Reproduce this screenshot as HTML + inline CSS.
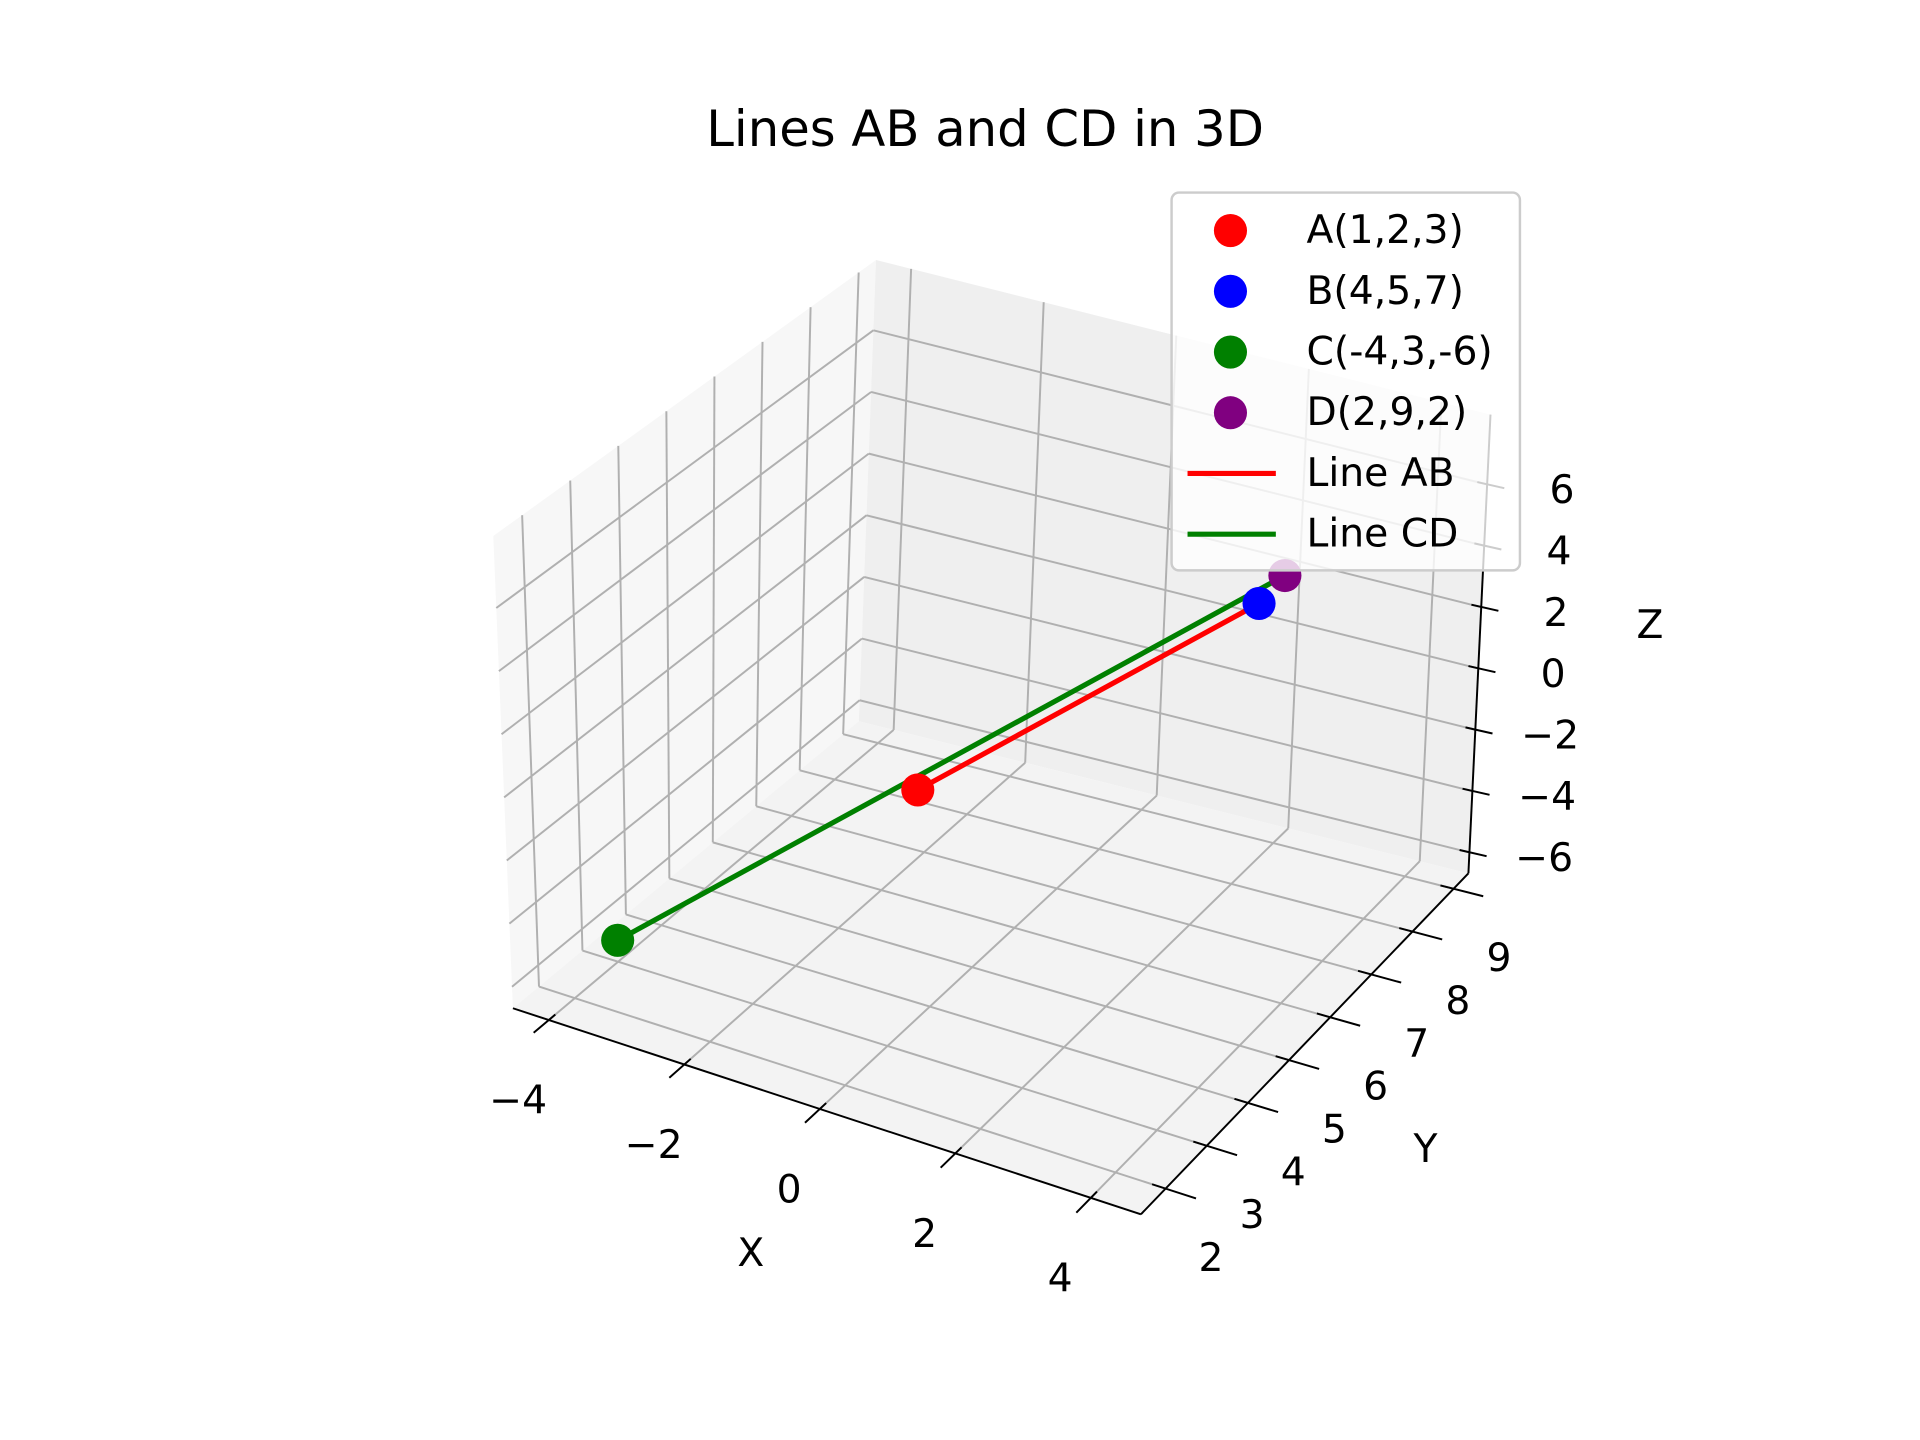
<!DOCTYPE html>
<html><head><meta charset="utf-8"><style>
html,body{margin:0;padding:0;background:#fff;}
svg{display:block;}
text{font-family:"DejaVu Sans","Liberation Sans",sans-serif;fill:#000;}
</style></head><body>
<svg id="chart" width="1920" height="1440" viewBox="0 0 1565 1174" xmlns="http://www.w3.org/2000/svg">
<text x="803" y="119" font-size="40.5" text-anchor="middle">Lines AB and CD in 3D</text>
<g id="panes"></g><g id="grid"></g><g id="axes"></g><g id="series"></g><g id="legend-layer"></g>
</svg>
<script>
const pointNames = ["A(1,2,3)","B(4,5,7)","C(-4,3,-6)","D(2,9,2)"];
const pointX = [1,4,-4,2];
const pointY = [2,5,3,9];
const pointZ = [3,7,-6,2];
const pointColors = ["#ff0000","#0000ff","#008000","#800080"];
const xTicks = [-4,-2,0,2,4];
const yTicks = [2,3,4,5,6,7,8,9];
const zTicks = [-6,-4,-2,0,2,4,6];
const xLim = [-4.53,4.74], yLim = [1.4,9.36], zLim = [-6.68,8.28];
const F = {"00":[418,822],"10":[930,990],"01":[700,588],"11":[1197,712]};
const T = {"00":[402,437],"10":[950,577],"01":[714,212],"11":[1215,338]};
function proj(x,y,z){
  const u=(x-xLim[0])/(xLim[1]-xLim[0]), v=(y-yLim[0])/(yLim[1]-yLim[0]), w=(z-zLim[0])/(zLim[1]-zLim[0]);
  function bl(P){const a=(1-u)*(1-v),b=u*(1-v),c=(1-u)*v,d=u*v;
    return [a*P["00"][0]+b*P["10"][0]+c*P["01"][0]+d*P["11"][0], a*P["00"][1]+b*P["10"][1]+c*P["01"][1]+d*P["11"][1]];}
  const f=bl(F),t=bl(T);
  return [f[0]+(t[0]-f[0])*w, f[1]+(t[1]-f[1])*w];
}
function projFloorPane(x,y,z){return proj(x,y,z);}
const NS="http://www.w3.org/2000/svg";
function mk(tag,parent,attrs){const e=document.createElementNS(NS,tag);for(const k in attrs)e.setAttribute(k,attrs[k]);parent.appendChild(e);return e;}
function line(parent,p,q,stroke,w){return mk("line",parent,{x1:p[0],y1:p[1],x2:q[0],y2:q[1],stroke:stroke,"stroke-width":w});}
const panes=document.getElementById("panes"),grid=document.getElementById("grid"),axes=document.getElementById("axes"),series=document.getElementById("series"),lg=document.getElementById("legend-layer");
function poly(pts,fill,name){const p=mk("polygon",panes,{points:pts.map(a=>a.join(",")).join(" "),fill:fill});

}
const [x0,x1]=xLim,[y0,y1]=yLim,[z0,z1]=zLim;
poly([proj(x0,y0,z0),proj(x0,y1,z0),proj(x0,y1,z1),proj(x0,y0,z1)],"#f7f7f7","left-pane");
poly([proj(x0,y1,z0),proj(x1,y1,z0),proj(x1,y1,z1),proj(x0,y1,z1)],"#efefef","back-pane");
poly([proj(x0,y0,z0),proj(x1,y0,z0),proj(x1,y1,z0),proj(x0,y1,z0)],"#f3f3f3","floor-pane");
const gc="#b0b0b0",gw=1.6;
xTicks.forEach(x=>{
  let l=line(grid,proj(x,y0,z0),proj(x,y1,z0),gc,gw);
  
  
  l=line(grid,proj(x,y1,z0),proj(x,y1,z1),gc,gw);
  
  
});
yTicks.forEach(y=>{
  let l=line(grid,proj(x0,y,z0),proj(x1,y,z0),gc,gw);
  
  
  l=line(grid,proj(x0,y,z0),proj(x0,y,z1),gc,gw);
  
  
});
zTicks.forEach(z=>{
  let l=line(grid,proj(x0,y0,z),proj(x0,y1,z),gc,gw);
  
  
  l=line(grid,proj(x0,y1,z),proj(x1,y1,z),gc,gw);
  
  
});
let a=line(axes,proj(x0,y0,z0),proj(x1,y0,z0),"#000",1.6);


a=line(axes,proj(x1,y0,z0),proj(x1,y1,z0),"#000",1.6);


a=line(axes,proj(x1,y1,z0),proj(x1,y1,z1),"#000",1.6);


function txt(s,p,anchor,name){const t=mk("text",axes,{x:p[0],y:p[1],"font-size":32,"text-anchor":anchor||"middle","dominant-baseline":"central"});t.textContent=s;


return t;}
function fmt(v){return v<0?"\u2212"+(-v):String(v);}
xTicks.forEach(x=>{
  const p=proj(x,y0,z0),q=proj(x,y0-0.35,z0),r=proj(x,y0+0.15,z0);
  const t=line(axes,r,q,"#000",1.6);
  
  
  txt(fmt(x),[p[0]-25,p[1]+66],"middle","x-tick-label");
});
yTicks.forEach(y=>{
  const p=proj(x1,y,z0),q=proj(x1+0.45,y,z0),r=proj(x1-0.2,y,z0);
  const t=line(axes,r,q,"#000",1.6);
  
  
  txt(fmt(y),[p[0]+37,p[1]+57],"middle","y-tick-label");
});
zTicks.forEach(z=>{
  const p=proj(x1,y1,z);
  const t=line(axes,[p[0]-8,p[1]-2],[p[0]+14,p[1]+3],"#000",1.6);
  
  
  txt(fmt(z),[p[0]+61,p[1]+5],"middle","z-tick-label");
});
txt("X",[612,1022],"middle","x-axis-title");
txt("Y",[1162,937],"middle","y-axis-title");
txt("Z",[1345,510],"middle","z-axis-title");
const segAB=[0,1], segCD=[2,3];
let pl=line(series,proj(pointX[segCD[0]],pointY[segCD[0]],pointZ[segCD[0]]),proj(pointX[segCD[1]],pointY[segCD[1]],pointZ[segCD[1]]),"#008000",4.2);


pl=line(series,proj(pointX[segAB[0]],pointY[segAB[0]],pointZ[segAB[0]]),proj(pointX[segAB[1]],pointY[segAB[1]],pointZ[segAB[1]]),"#ff0000",4.2);


pointNames.forEach((n,i)=>{
  const p=proj(pointX[i],pointY[i],pointZ[i]);
  const c=mk("circle",series,{cx:p[0],cy:p[1],r:13.5,fill:pointColors[i]});
  
  
});
const box=mk("rect",lg,{x:955,y:157,width:284,height:308,rx:6,fill:"#fff","fill-opacity":0.8,stroke:"#cccccc","stroke-width":2});


const legLabels=pointNames.concat(["Line AB","Line CD"]);
const legColors=pointColors.concat(["#ff0000","#008000"]);
legLabels.forEach((s,i)=>{
  const y=188+i*49.5;
  let m;
  if(i<4){m=mk("circle",lg,{cx:1003,cy:y,r:13.5,fill:legColors[i]});}
  else{m=mk("line",lg,{x1:968,y1:y,x2:1040,y2:y,stroke:legColors[i],"stroke-width":4.2});}
  
  
  const t=mk("text",lg,{x:1065,y:y,"font-size":32,"dominant-baseline":"central"});
  t.textContent=s;
  
  
});
</script>
</body></html>
